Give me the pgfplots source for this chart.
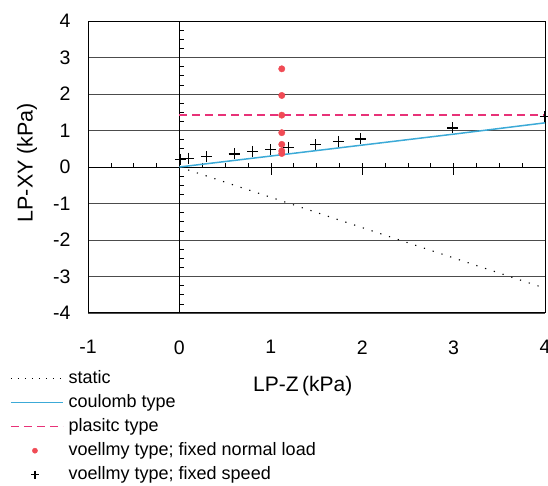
\documentclass[border=0pt]{standalone}
\usepackage{pgfplots}
\pgfplotsset{compat=1.18}
\usepackage{fontspec}
\setmainfont{Liberation Sans}
\definecolor{cblue}{RGB}{60,170,215}
\definecolor{cpink}{RGB}{232,50,120}
\definecolor{cred}{RGB}{240,75,85}
\pgfplotsset{
  lineleg/.style={legend image code/.code={\draw[##1] (0pt,0pt) -- (52pt,0pt);}},
  dotleg/.style={legend image code/.code={\draw[black, line width=1pt, dash pattern=on 1pt off 6pt] (0pt,0pt) -- (52pt,0pt);}},
  markleg/.style={legend image code/.code={\draw[##1, mark size=#1] plot coordinates {(24pt,0pt)};}},
}
\begin{document}
\begin{tikzpicture}
\path[use as bounding box] (-88pt,-173pt) rectangle (460pt,313pt);
\begin{axis}[
  at={(0,0)}, anchor=south west,
  scale only axis, width=457pt, height=292pt,
  xmin=-1, xmax=4, ymin=-4, ymax=4,
  xtick={-1,0,1,2,3,4}, ytick={-4,-3,-2,-1,0,1,2,3,4},
  major tick length=0pt, minor tick num=0,
  ymajorgrids, grid style={black!70, line width=0.6pt},
  axis line style={black, line width=1pt},
  tick label style={font=\fontsize{19.5}{22}\selectfont},
  /pgf/number format/assume math mode=true,
  xticklabel style={yshift=-24pt},
  yticklabel style={xshift=-14pt},
  xlabel={LP-Z\,(kPa)}, ylabel={LP-XY (kPa)},
  xlabel style={at={([yshift=-73pt]rel axis cs:0.47,0)}, anchor=center, font=\fontsize{21}{24}\selectfont},
  ylabel style={at={([xshift=-61pt]rel axis cs:0,0.515)}, anchor=center, font=\fontsize{21.5}{24}\selectfont},
  legend style={at={([xshift=-78pt,yshift=-57pt]rel axis cs:0,0)}, anchor=north west,
    draw=none, fill=none, inner sep=0pt, row sep=7pt, column sep=5pt,
    font=\fontsize{18}{20}\selectfont,
    nodes={inner sep=0pt, text height=13pt, text depth=4pt}},
  legend cell align=left,
]
% zero lines with ticks
\draw[black, line width=1pt] (axis cs:0,-4) -- (axis cs:0,4);
\draw[black, line width=1pt] (axis cs:-1,0) -- (axis cs:4,0);
\pgfplotsinvokeforeach{-0.75,-0.5,-0.25,0.25,0.5,0.75,1.25,1.5,1.75,2.25,2.5,2.75,3.25,3.5,3.75}{
  \draw[black, line width=0.6pt] (axis cs:#1,0) -- ++(0pt,4pt);
}
\pgfplotsinvokeforeach{1,2,3}{
  \draw[black, line width=0.6pt] (axis cs:#1,0) ++(0pt,4pt) -- ++(0pt,-12pt);
}
\pgfplotsinvokeforeach{-3.75,-3.5,-3.25,-2.75,-2.5,-2.25,-1.75,-1.5,-1.25,-0.75,-0.5,-0.25,0.25,0.5,0.75,1.25,1.5,1.75,2.25,2.5,2.75,3.25,3.5,3.75}{
  \draw[black, line width=0.6pt] (axis cs:0,#1) -- ++(5pt,0pt);
}
\addplot[black, line width=1.1pt, dash pattern=on 1.2pt off 8pt, dotleg]
  coordinates {(0,0) (3.95,-3.28)};
\addlegendentry{static}
\addplot[cblue, line width=1.5pt, lineleg]
  coordinates {(0,0) (1,0.3) (2,0.6) (3,0.9) (4,1.21)};
\addlegendentry{coulomb type}
\addplot[cpink, line width=1.5pt, dash pattern=on 8pt off 5pt, lineleg]
  coordinates {(0,1.43) (4,1.43)};
\addlegendentry{plasitc type}
\addplot[only marks, mark=*, mark size=3.2pt, cred, mark options={draw=cred, fill=cred}, markleg=2.6pt]
  coordinates {(1.12,2.69) (1.12,1.96) (1.12,1.42) (1.12,0.94) (1.12,0.62) (1.12,0.44) (1.12,0.37)};
\addlegendentry{voellmy type; fixed normal load}
\addplot[only marks, mark=+, mark size=5.5pt, black, line width=1.3pt, markleg=4pt]
  coordinates {(0.01,0.21) (0.10,0.24) (0.30,0.28) (0.60,0.36) (0.80,0.43) (1.00,0.47) (1.19,0.54) (1.49,0.61) (1.74,0.70) (1.98,0.77) (2.99,1.07) (4.00,1.39)};
\addlegendentry{voellmy type; fixed speed}
\end{axis}
\end{tikzpicture}
\end{document}
